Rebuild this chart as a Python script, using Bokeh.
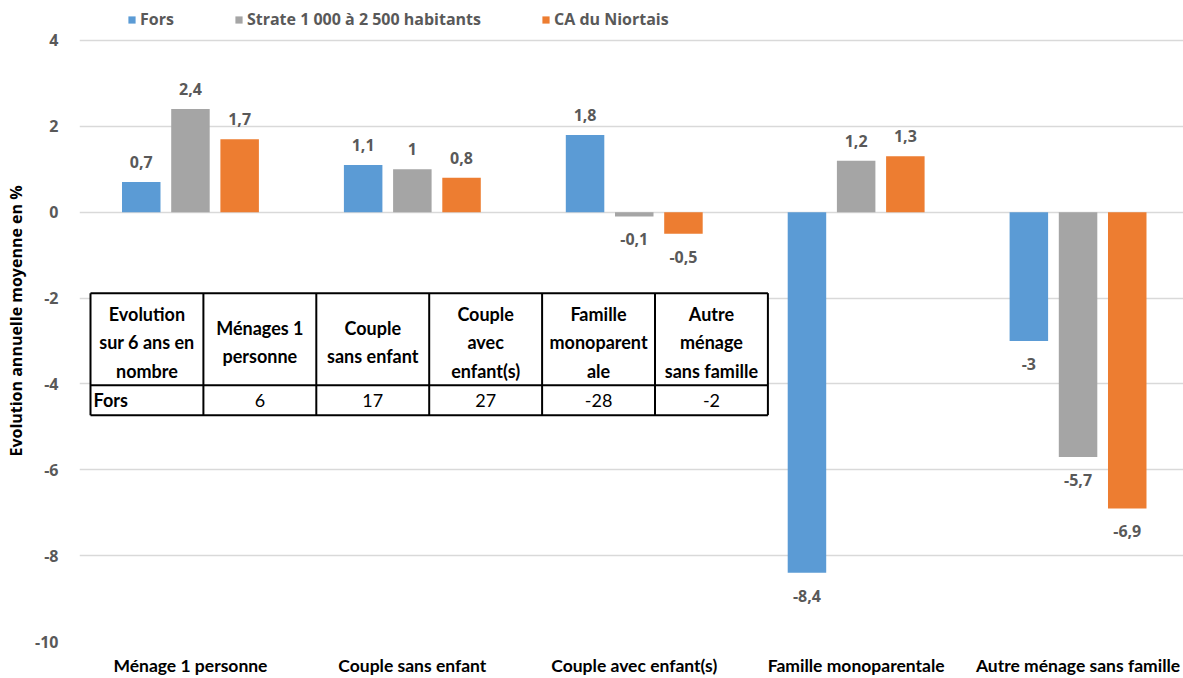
from bokeh.plotting import figure
from bokeh.models import ColumnDataSource, Range1d, FixedTicker
from bokeh.core.properties import value
from bokeh.embed import file_html
from bokeh.resources import INLINE

# ---------------- data ----------------
categories = ["Ménage 1 personne", "Couple sans enfant", "Couple avec enfant(s)",
              "Famille monoparentale", "Autre ménage sans famille"]
series_names = ["Fors", "Strate 1 000 à 2 500 habitants", "CA du Niortais"]
fors = [0.7, 1.1, 1.8, -8.4, -3]
strate = [2.4, 1, -0.1, 1.2, -5.7]
ca_niortais = [1.7, 0.8, -0.5, 1.3, -6.9]
y_ticks = [-10, -8, -6, -4, -2, 0, 2, 4]

table_header = ["Evolution\nsur 6 ans en\nnombre", "Ménages 1\npersonne", "Couple\nsans enfant",
                "Couple\navec\nenfant(s)", "Famille\nmonoparent\nale", "Autre\nménage\nsans famille"]
table_row_label = "Fors"
table_values = [6, 17, 27, -28, -2]

colors = ["#5B9BD5", "#A5A5A5", "#ED7D31"]

# ---------------- layout constants ----------------
GROUP_PX = 221.9          # pixels per category
FRAME_W = 1104
FRAME_H = 641
Y_MIN, Y_MAX = -10, 4.93
X_END = FRAME_W / GROUP_PX
BAR_W = 0.1735
OFFSETS = [-0.2217, 0.0, 0.2217]

p = figure(width=1183, height=678, output_backend="svg", toolbar_location=None,
           x_range=Range1d(0, X_END), y_range=Range1d(Y_MIN, Y_MAX),
           min_border_left=79, min_border_right=0, min_border_top=0, min_border_bottom=37)
p.outline_line_color = None
p.background_fill_color = "white"
p.border_fill_color = "white"

p.xgrid.grid_line_color = None
p.ygrid.grid_line_color = "#D9D9D9"
p.ygrid.grid_line_width = 1.3
p.ygrid.ticker = FixedTicker(ticks=y_ticks)

# x axis
p.xaxis.ticker = FixedTicker(ticks=[i + 0.5 for i in range(len(categories))])
p.xaxis.major_label_overrides = {i + 0.5: c for i, c in enumerate(categories)}
p.xaxis.axis_line_color = None
p.xaxis.major_tick_line_color = None
p.xaxis.minor_tick_line_color = None
p.xaxis.major_label_standoff = 7
p.xaxis.major_label_text_font = "Lato"
p.xaxis.major_label_text_font_style = "bold"
p.xaxis.major_label_text_font_size = "17.5px"
p.xaxis.major_label_text_color = "black"

# y axis
p.yaxis.ticker = FixedTicker(ticks=y_ticks)
p.yaxis.major_label_overrides = {t: str(t) for t in y_ticks}
p.yaxis.axis_line_color = None
p.yaxis.major_tick_line_color = None
p.yaxis.minor_tick_line_color = None
p.yaxis.major_label_standoff = 15
p.yaxis.major_label_text_font = "Open Sans"
p.yaxis.major_label_text_font_style = "bold"
p.yaxis.major_label_text_font_size = "16px"
p.yaxis.major_label_text_color = "#595959"
p.yaxis.axis_label = "Evolution annuelle moyenne en %"
p.yaxis.axis_label_text_font = "Open Sans"
p.yaxis.axis_label_text_font_style = "bold"
p.yaxis.axis_label_text_font_size = "16px"
p.yaxis.axis_label_text_color = "black"
p.yaxis.axis_label_standoff = 5

# ---------------- bars + labels ----------------
all_series = [fors, strate, ca_niortais]
for s_idx, (name, vals, col) in enumerate(zip(series_names, all_series, colors)):
    xs = [i + 0.5 + OFFSETS[s_idx] for i in range(len(vals))]
    src = ColumnDataSource(dict(
        x=xs, top=vals,
        label=[("%g" % v).replace(".", ",") for v in vals],
        yoff=[-20 if v >= 0 else 23 for v in vals],
    ))
    p.vbar(x="x", top="top", bottom=0, width=BAR_W, source=src,
           fill_color=col, line_color=None, legend_label=name)
    p.text(x="x", y="top", text="label", y_offset="yoff", source=src,
           text_align="center", text_baseline="middle",
           text_font=value("Open Sans"), text_font_style="bold",
           text_font_size="16px", text_color="#595959")

# ---------------- table ----------------
SCALE = FRAME_H / (Y_MAX - Y_MIN)
T_LEFT = 11 / GROUP_PX
COL_W = 112.9 / GROUP_PX
T_TOP = -81 / SCALE
T_MID = -173 / SCALE
T_BOT = -203 / SCALE
ncol = len(table_header)
lefts = [T_LEFT + k * COL_W for k in range(ncol)]
T_RIGHT = T_LEFT + ncol * COL_W
p.quad(left=[T_LEFT], right=[T_RIGHT], top=[T_TOP], bottom=[T_BOT],
       fill_color="white", line_color=None)
xs_lines = [[x, x] for x in lefts + [T_RIGHT]]
ys_lines = [[T_TOP, T_BOT] for _ in xs_lines]
for yv in [T_TOP, T_MID, T_BOT]:
    xs_lines.append([T_LEFT, T_RIGHT])
    ys_lines.append([yv, yv])
p.multi_line(xs=xs_lines, ys=ys_lines, line_color="black", line_width=2)

centers = [l + COL_W / 2 for l in lefts]
p.text(x=centers, y=[(T_TOP + T_MID) / 2] * ncol, text=table_header, y_offset=3,
       text_align="center", text_baseline="middle", text_line_height=1.3,
       text_font=value("Lato"), text_font_style="bold", text_font_size="18px",
       text_color="black")
p.text(x=[T_LEFT + 3 / GROUP_PX], y=[(T_MID + T_BOT) / 2], text=[table_row_label],
       text_align="left", text_baseline="middle",
       text_font=value("Lato"), text_font_style="bold", text_font_size="18px",
       text_color="black")
p.text(x=centers[1:], y=[(T_MID + T_BOT) / 2] * len(table_values),
       text=[str(v) for v in table_values],
       text_align="center", text_baseline="middle",
       text_font=value("Lato"), text_font_size="18px", text_color="black")

# ---------------- legend ----------------
lg = p.legend[0]
lg.orientation = "horizontal"
lg.location = (48, FRAME_H - 30)
lg.border_line_color = None
lg.background_fill_alpha = 0
lg.padding = 0
lg.margin = 0
lg.spacing = 60
lg.glyph_width = 9
lg.glyph_height = 9
lg.label_standoff = 4
lg.label_height = 20
lg.label_text_font = "Open Sans"
lg.label_text_font_style = "bold"
lg.label_text_font_size = "16px"
lg.label_text_color = "#595959"

open("out.html", "w").write(file_html(p, INLINE))
